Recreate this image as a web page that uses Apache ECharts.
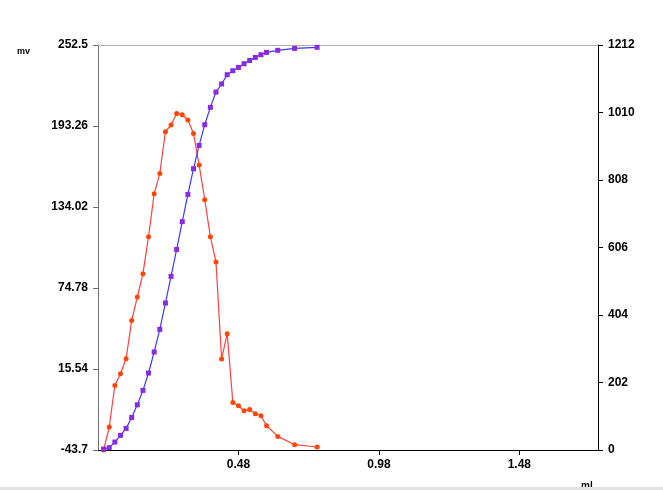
<!DOCTYPE html>
<html>
<head>
<meta charset="utf-8">
<script src="https://cdn.jsdelivr.net/npm/echarts@6/dist/echarts.min.js"></script>
<style>
html,body{margin:0;padding:0;background:#fff;}
#c{width:663px;height:490px;}
#band{position:absolute;left:0;top:487px;width:663px;height:3px;background:#e3e3e3;}
</style>
</head>
<body>
<div id="c"></div>
<div id="band"></div>
<script>
// x values (ml)
const xBlue = [0,0.02,0.04,0.06,0.08,0.10,0.12,0.14,0.16,0.18,0.20,0.22,0.24,0.26,0.28,0.30,0.32,0.34,0.36,0.38,0.40,0.42,0.44,0.46,0.48,0.50,0.52,0.54,0.56,0.58,0.62,0.68,0.76];
// potential (mv), left axis
const mvValues = [-43.0,-42.0,-37.9,-33.0,-27.9,-19.9,-10.6,-0.1,12.6,28.0,44.5,63.8,83.3,103.0,123.3,143.2,162.0,179.1,194.2,206.9,218.1,224.0,230.8,233.7,236.1,238.8,241.2,243.4,245.4,247.1,248.6,250.0,250.8];
// derivative, right axis
const xRed = xBlue;
const derivValues = [0,68.8,193.3,228.3,273.2,387.8,457.9,527.6,638.3,767.0,827.7,952.5,972.6,1007.3,1003.4,987.6,947.4,852.9,749.0,638.3,562.6,272.6,348.0,142.4,132.6,117.6,121.5,108.6,102.6,72.7,40.7,15.9,9.0];
const leftTicks = [-43.7,15.54,74.78,134.02,193.26,252.5];
const rightTicks = [0,202,404,606,808,1010,1212];
const xTickLabels = [0.48,0.98,1.48];

const chart = echarts.init(document.getElementById('c'));
const labelStyle = {color:'#000', fontFamily:'Liberation Sans, Arial, sans-serif', fontWeight:'bold', fontSize:12};
chart.setOption({
  animation:false,
  grid:{left:98,right:65,top:45,bottom:40},
  xAxis:[{
    type:'value', min:-0.02, max:1.76,
    axisLine:{onZero:false, lineStyle:{color:'#000'}},
    axisTick:{length:5, lineStyle:{color:'#000'}, customValues:xTickLabels},
    axisLabel:Object.assign({}, labelStyle, {margin:9, customValues:xTickLabels,
      formatter:v=>(Math.round(v*100)/100).toFixed(2)}),
    splitLine:{show:false}
  },{
    type:'value', position:'top', min:-0.02, max:1.76,
    axisLine:{show:true, onZero:false, lineStyle:{color:'#b0b0b0'}},
    axisTick:{show:false}, axisLabel:{show:false}, splitLine:{show:false}
  }],
  yAxis:[{
    type:'value', min:leftTicks[0], max:leftTicks[leftTicks.length-1],
    axisLine:{show:true, onZero:false, lineStyle:{color:'#707070'}},
    axisTick:{show:true, length:5, lineStyle:{color:'#707070'}, customValues:leftTicks},
    axisLabel:Object.assign({}, labelStyle, {margin:10, customValues:leftTicks, formatter:v=>{
      const r=Math.round(v*100)/100; return String(r);}}),
    splitLine:{show:false}
  },{
    type:'value', position:'right', min:0, max:rightTicks[rightTicks.length-1],
    axisLine:{show:true, onZero:false, lineStyle:{color:'#000'}},
    axisTick:{show:true, length:5, lineStyle:{color:'#000'}, customValues:rightTicks},
    axisLabel:Object.assign({}, labelStyle, {margin:10, customValues:rightTicks, formatter:v=>String(Math.round(v))}),
    splitLine:{show:false}
  }],
  graphic:[
    {type:'text', left:17, top:47, style:{text:'mv', fill:'#000', font:'bold 9px Liberation Sans, Arial, sans-serif'}},
    {type:'text', left:581, top:481, style:{text:'ml', fill:'#000', font:'bold 10px Liberation Sans, Arial, sans-serif'}}
  ],
  series:[{
    name:'deriv', type:'line', xAxisIndex:0, yAxisIndex:1,
    data:xRed.map((x,i)=>[x,derivValues[i]]),
    symbol:'circle', symbolSize:5,
    itemStyle:{color:'#ff4500'},
    lineStyle:{color:'#ff4040', width:1.2},
    z:2
  },{
    name:'mv', type:'line', xAxisIndex:0, yAxisIndex:0,
    data:xBlue.map((x,i)=>[x,mvValues[i]]),
    symbol:'rect', symbolSize:5,
    itemStyle:{color:'#8a2be2'},
    lineStyle:{color:'#3a3aff', width:1.2},
    z:3
  }]
});
</script>
</body>
</html>
